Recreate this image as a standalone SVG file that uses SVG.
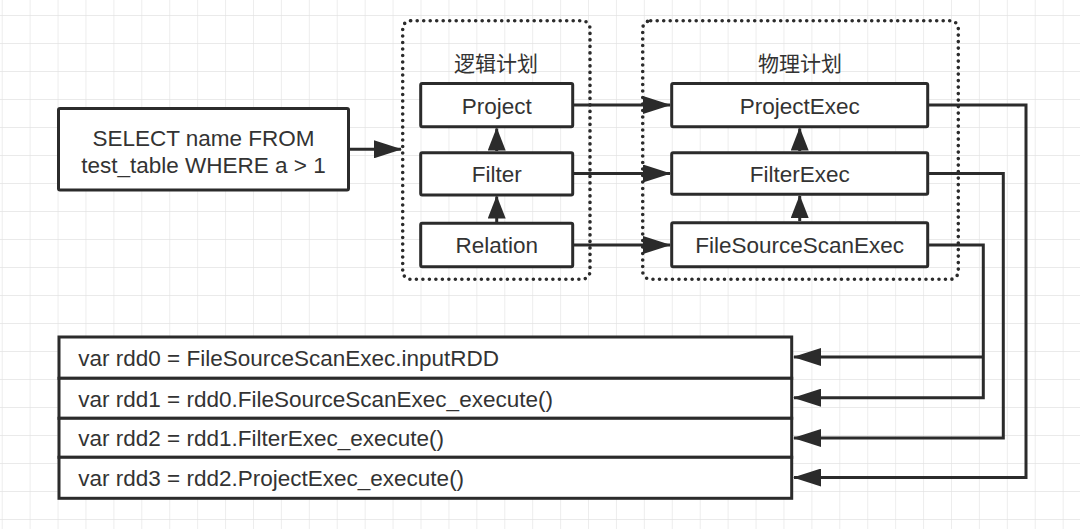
<svg xmlns="http://www.w3.org/2000/svg" width="1080" height="529" viewBox="0 0 1080 529">
  <style>
    .box { fill: #ffffff; stroke: #2b2b2b; stroke-width: 3; }
    .frame { fill: none; stroke: #2b2b2b; stroke-width: 3.6; stroke-dasharray: 0 6.5; stroke-linecap: round; }
    .lbl { font-family: "Liberation Sans", Arial, sans-serif; font-size: 22.5px; fill: #333333; text-anchor: middle; }
    .code { font-family: "Liberation Sans", Arial, sans-serif; font-size: 22.5px; fill: #333333; }
    .title { font-family: "Noto Sans CJK SC", "Liberation Sans", sans-serif; font-size: 21px; fill: #333333; text-anchor: middle; }
    .conn { fill: none; stroke: #2b2b2b; stroke-width: 3; }
  </style>
  <defs>
    <pattern id="grid" x="1.7" y="15" width="27.92" height="28" patternUnits="userSpaceOnUse">
      <path d="M0 0 H27.92 M0 0 V28" fill="none" stroke="#e3e3e3" stroke-width="1.3"/>
    </pattern>
    <marker id="ah" markerUnits="userSpaceOnUse" markerWidth="28" markerHeight="18" refX="27" refY="9" orient="auto" viewBox="0 0 28 18">
      <path d="M0 0 L28 9 L0 18 Z" fill="#2b2b2b"/>
    </marker>
    <marker id="ahs" markerUnits="userSpaceOnUse" markerWidth="23" markerHeight="18" refX="22" refY="9" orient="auto" viewBox="0 0 23 18">
      <path d="M0 0 L23 9 L0 18 Z" fill="#2b2b2b"/>
    </marker>
  </defs>
  <rect width="1080" height="529" fill="#ffffff"/>
  <rect width="1080" height="529" fill="url(#grid)"/>

  <g id="logical-plan">
    <rect class="frame" x="402.7" y="20.7" width="187.3" height="258.6" rx="8"/>
    <text class="title" x="496" y="71">逻辑计划</text>
  </g>
  <g id="physical-plan">
    <rect class="frame" x="642.7" y="20.7" width="315.6" height="258.6" rx="8"/>
    <text class="title" x="800" y="71">物理计划</text>
  </g>

  <g id="sql">
    <rect class="box" x="58.5" y="108.5" width="290" height="81.5" rx="1.5"/>
    <text class="lbl" x="203.5" y="146">SELECT name FROM</text>
    <text class="lbl" x="203.5" y="173">test_table WHERE a &gt; 1</text>
  </g>

  <g id="project">
    <rect class="box" x="420.7" y="83.5" width="152" height="43.2" rx="1.5"/>
    <text class="lbl" x="496.7" y="113.5">Project</text>
  </g>
  <g id="filter">
    <rect class="box" x="420.7" y="152.7" width="152" height="42.3" rx="1.5"/>
    <text class="lbl" x="496.7" y="182.3">Filter</text>
  </g>
  <g id="relation">
    <rect class="box" x="420.7" y="223.3" width="152" height="43.4" rx="1.5"/>
    <text class="lbl" x="496.7" y="253">Relation</text>
  </g>

  <g id="project-exec">
    <rect class="box" x="671.7" y="83.5" width="256" height="43.2" rx="1.5"/>
    <text class="lbl" x="799.7" y="113.5">ProjectExec</text>
  </g>
  <g id="filter-exec">
    <rect class="box" x="671.7" y="152.7" width="256" height="41.6" rx="1.5"/>
    <text class="lbl" x="799.7" y="182.3">FilterExec</text>
  </g>
  <g id="file-source-scan-exec">
    <rect class="box" x="671.7" y="222.7" width="256" height="44" rx="1.5"/>
    <text class="lbl" x="799.7" y="253">FileSourceScanExec</text>
  </g>

  <g id="rdd0">
    <rect class="box" x="59" y="337" width="732.7" height="41.3"/>
    <text class="code" x="78.3" y="366.2">var rdd0 = FileSourceScanExec.inputRDD</text>
  </g>
  <g id="rdd1">
    <rect class="box" x="59" y="378.3" width="732.7" height="40"/>
    <text class="code" x="78.3" y="406.8">var rdd1 = rdd0.FileSourceScanExec_execute()</text>
  </g>
  <g id="rdd2">
    <rect class="box" x="59" y="418.3" width="732.7" height="39"/>
    <text class="code" x="78.3" y="446.3">var rdd2 = rdd1.FilterExec_execute()</text>
  </g>
  <g id="rdd3">
    <rect class="box" x="59" y="457.3" width="732.7" height="41"/>
    <text class="code" x="78.3" y="486.3">var rdd3 = rdd2.ProjectExec_execute()</text>
  </g>

  <g id="connectors">
    <path class="conn" d="M350 149.3 H401" marker-end="url(#ah)"/>
    <path class="conn" d="M574 105 H670" marker-end="url(#ah)"/>
    <path class="conn" d="M574 173.5 H670" marker-end="url(#ah)"/>
    <path class="conn" d="M574 245 H670" marker-end="url(#ah)"/>
    <path class="conn" d="M496.7 151 V128.5" marker-end="url(#ahs)"/>
    <path class="conn" d="M496.7 222 V196.5" marker-end="url(#ahs)"/>
    <path class="conn" d="M799.7 151 V128.5" marker-end="url(#ahs)"/>
    <path class="conn" d="M799.7 221 V196" marker-end="url(#ahs)"/>
    <path class="conn" d="M929 105 H1026 V477.5 H794" marker-end="url(#ah)"/>
    <path class="conn" d="M929 173.5 H1003.3 V438 H794" marker-end="url(#ah)"/>
    <path class="conn" d="M929 245 H983.3 V397.7 H794" marker-end="url(#ah)"/>
    <path class="conn" d="M983.3 357 H794" marker-end="url(#ah)"/>
  </g>
</svg>
